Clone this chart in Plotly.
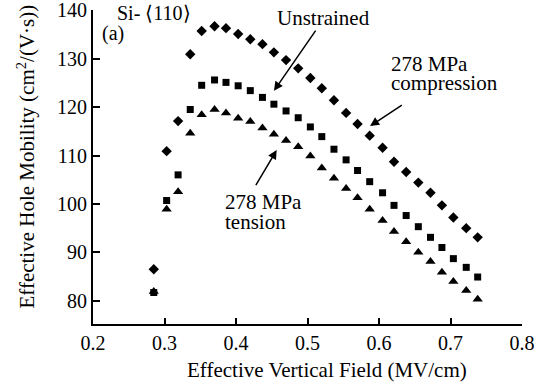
import plotly.graph_objects as go

field = [0.285, 0.303, 0.319, 0.336, 0.352, 0.370, 0.386, 0.403, 0.420, 0.437,
         0.453, 0.470, 0.487, 0.504, 0.520, 0.537, 0.554, 0.570, 0.587, 0.605,
         0.621, 0.638, 0.655, 0.672, 0.688, 0.704, 0.722, 0.738]

compression = [86.5, 110.9, 117.1, 130.9, 135.7, 136.7, 136.3, 135.1, 134.0, 133.0,
               131.3, 129.7, 128.0, 126.0, 123.9, 121.4, 118.8, 116.5, 114.1, 111.6,
               108.7, 106.6, 104.4, 102.3, 99.7, 97.2, 95.0, 93.1]

unstrained = [81.7, 100.7, 106.0, 119.5, 124.5, 125.6, 125.1, 124.4, 123.4, 122.0,
              120.6, 119.2, 117.8, 115.9, 113.9, 111.3, 109.1, 106.9, 104.6, 102.3,
              99.7, 97.6, 95.3, 93.1, 91.0, 88.7, 86.9, 84.9]

tension = [81.9, 98.9, 102.5, 114.6, 118.4, 119.5, 118.8, 117.7, 117.0, 115.7,
           114.4, 113.1, 111.8, 109.9, 107.4, 105.3, 103.2, 101.3, 98.9, 96.6,
           94.3, 92.2, 90.0, 88.1, 85.9, 84.0, 82.1, 80.3]

x_ticks = [0.2, 0.3, 0.4, 0.5, 0.6, 0.7, 0.8]
y_ticks = [80, 90, 100, 110, 120, 130, 140]

FONT = "Liberation Serif, Times New Roman, serif"

fig = go.Figure()
fig.add_trace(go.Scatter(x=field, y=compression, mode="markers", name="278 MPa compression",
                         marker=dict(symbol="diamond", size=8, color="black")))
fig.add_trace(go.Scatter(x=field, y=unstrained, mode="markers", name="Unstrained",
                         marker=dict(symbol="square", size=7, color="black")))
fig.add_trace(go.Scatter(x=field, y=tension, mode="markers", name="278 MPa tension",
                         marker=dict(symbol="triangle-up", size=9, color="black")))

annos = []
def txt(x, y, t, size=21):
    annos.append(dict(x=x, y=y, xref="x", yref="y", text=t, showarrow=False,
                      xanchor="left", yanchor="middle",
                      font=dict(family=FONT, size=size, color="black")))

txt(0.2304, 139.4, "Si- ⟨110⟩", 20)
txt(0.2094, 135.3, "(a)", 20)
txt(0.4545, 138.3, "Unstrained")
txt(0.6141, 129.0, "278 MPa")
txt(0.6141, 124.9, "compression")
txt(0.3812, 100.5, "278 MPa")
txt(0.3812, 96.35, "tension")

def arrow(x, y, ax, ay):
    annos.append(dict(x=x, y=y, xref="x", yref="y", ax=ax, ay=ay, text="",
                      showarrow=True, arrowhead=2, arrowsize=1.2, arrowwidth=1.5,
                      arrowcolor="black", standoff=0))

arrow(0.4531, 123.36, 42.7, -61.7)
arrow(0.5875, 116.08, 33.3, -22)
arrow(0.4569, 111.13, -21.7, 36.7)

annos.append(dict(x=0.5455, y=-0.145, xref="paper", yref="paper",
                  text="Effective Vertical Field (MV/cm)", showarrow=False,
                  xanchor="center", yanchor="middle",
                  font=dict(family=FONT, size=21, color="black")))
annos.append(dict(x=-0.1548, y=0.532, xref="paper", yref="paper", textangle=-90,
                  text="Effective Hole Mobility (cm<sup>2</sup>/(V·s))", showarrow=False,
                  xanchor="center", yanchor="middle",
                  font=dict(family=FONT, size=21, color="black")))

fig.update_layout(
    width=551, height=389,
    margin=dict(l=93, r=29, t=10, b=65, autoexpand=False),
    paper_bgcolor="white", plot_bgcolor="white",
    showlegend=False,
    font=dict(family=FONT, size=20, color="black"),
    annotations=annos,
    xaxis=dict(range=[0.2, 0.8], tickvals=x_ticks, tickformat=".1f",
               ticks="inside", ticklen=6, tickwidth=1.5, tickcolor="black",
               showline=True, linewidth=2, linecolor="black", automargin=False,
               showgrid=False, zeroline=False, ticklabeloverflow="allow",
               tickfont=dict(family=FONT, size=20, color="black")),
    yaxis=dict(range=[75.2, 140.05], tickvals=y_ticks,
               ticks="inside", ticklen=7, tickwidth=1.5, tickcolor="black",
               showline=True, linewidth=2, linecolor="black", automargin=False,
               showgrid=False, zeroline=False, ticklabeloverflow="allow",
               tickfont=dict(family=FONT, size=20, color="black")),
)

fig.write_html("out.html")
